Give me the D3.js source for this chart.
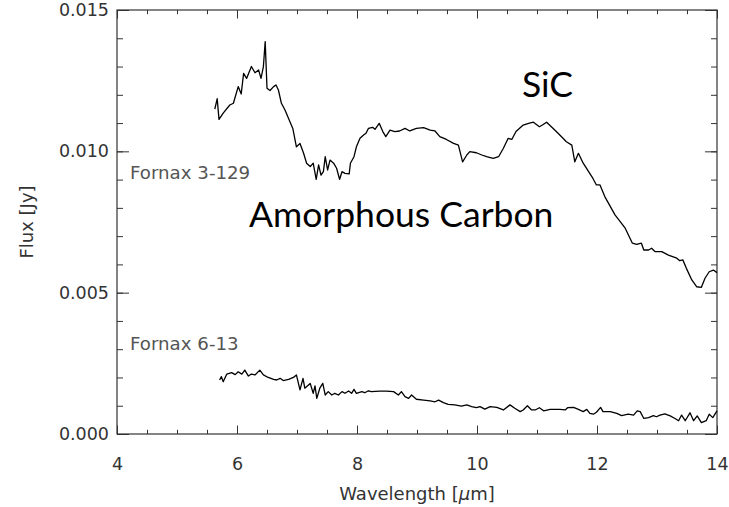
<!DOCTYPE html>
<html lang="en">
  <head>
    <meta charset="UTF-8" />
    <title>Fornax spectra</title>
    <style>
      body { margin: 0; background: #fff; }
    </style>
    <script src="https://d3js.org/d3.v7.min.js"></script>
  </head>
  <body>
    <svg width="729" height="507"></svg>
    <script>
      // Fornax 3-129 spectrum (wavelength in micron, flux in Jy)
      var wlA = [5.63, 5.67, 5.70, 5.77, 5.88, 5.94, 6.02, 6.07, 6.11, 6.16, 6.24, 6.30, 6.36, 6.40, 6.44, 6.47, 6.50, 6.55, 6.61, 6.65, 6.69, 6.74, 6.80, 6.87, 6.93, 6.99, 7.05, 7.11, 7.16, 7.22, 7.27, 7.32, 7.36, 7.40, 7.44, 7.47, 7.51, 7.55, 7.61, 7.66, 7.71, 7.75, 7.80, 7.87, 7.89, 7.95, 7.99, 8.05, 8.11, 8.15, 8.19, 8.26, 8.30, 8.37, 8.43, 8.48, 8.55, 8.63, 8.71, 8.80, 8.88, 8.99, 9.11, 9.22, 9.30, 9.38, 9.49, 9.61, 9.69, 9.76, 9.83, 9.88, 9.99, 10.08, 10.16, 10.27, 10.36, 10.44, 10.52, 10.58, 10.65, 10.77, 10.86, 10.94, 11.04, 11.09, 11.16, 11.27, 11.38, 11.49, 11.58, 11.63, 11.69, 11.77, 11.86, 11.93, 11.99, 12.05, 12.13, 12.30, 12.47, 12.59, 12.66, 12.74, 12.78, 12.86, 12.91, 12.97, 13.08, 13.19, 13.33, 13.38, 13.43, 13.49, 13.58, 13.66, 13.74, 13.80, 13.87, 13.94, 14.00];
      var fluxA = [0.01149, 0.01186, 0.01113, 0.01135, 0.01164, 0.0117, 0.01229, 0.01203, 0.01276, 0.01258, 0.013, 0.01278, 0.01288, 0.01258, 0.013, 0.01388, 0.01223, 0.01215, 0.01229, 0.01235, 0.01217, 0.0117, 0.01146, 0.01111, 0.01081, 0.01016, 0.01028, 0.00993, 0.00958, 0.00946, 0.00958, 0.00901, 0.00952, 0.00916, 0.00928, 0.00981, 0.00934, 0.00969, 0.00958, 0.0094, 0.00901, 0.00928, 0.00922, 0.0092, 0.00958, 0.00981, 0.01016, 0.01046, 0.01058, 0.01064, 0.01081, 0.01085, 0.01078, 0.01099, 0.0107, 0.01052, 0.01075, 0.0107, 0.01072, 0.01081, 0.01072, 0.01081, 0.01084, 0.01075, 0.01072, 0.01052, 0.01042, 0.01028, 0.01022, 0.00963, 0.00987, 0.00999, 0.00995, 0.00987, 0.00981, 0.00975, 0.00981, 0.01011, 0.01046, 0.01042, 0.0107, 0.01093, 0.01099, 0.01103, 0.01087, 0.01093, 0.01103, 0.01081, 0.01058, 0.01034, 0.01022, 0.00963, 0.00993, 0.00958, 0.00928, 0.00905, 0.00881, 0.00881, 0.0084, 0.00775, 0.00728, 0.00675, 0.00671, 0.00675, 0.00651, 0.00651, 0.00657, 0.00645, 0.00645, 0.00633, 0.00622, 0.00613, 0.00616, 0.00586, 0.00545, 0.00521, 0.00519, 0.00551, 0.00574, 0.0058, 0.00571];

      // Fornax 6-13 spectrum
      var wlB = [5.71, 5.74, 5.77, 5.83, 5.91, 5.97, 6.02, 6.08, 6.13, 6.19, 6.24, 6.30, 6.38, 6.44, 6.52, 6.61, 6.66, 6.72, 6.77, 6.86, 6.94, 6.99, 7.05, 7.10, 7.13, 7.22, 7.27, 7.30, 7.33, 7.38, 7.43, 7.47, 7.52, 7.58, 7.63, 7.69, 7.75, 7.80, 7.86, 7.91, 7.95, 7.99, 8.08, 8.13, 8.19, 8.24, 8.38, 8.49, 8.61, 8.69, 8.74, 8.80, 8.86, 8.91, 8.99, 9.11, 9.22, 9.30, 9.36, 9.44, 9.52, 9.63, 9.74, 9.83, 9.91, 9.99, 10.05, 10.13, 10.22, 10.33, 10.44, 10.55, 10.63, 10.72, 10.77, 10.84, 10.91, 10.97, 11.04, 11.11, 11.22, 11.38, 11.47, 11.51, 11.61, 11.69, 11.77, 11.83, 11.88, 11.94, 11.99, 12.06, 12.10, 12.22, 12.33, 12.41, 12.52, 12.61, 12.67, 12.72, 12.78, 12.86, 12.94, 12.99, 13.05, 13.13, 13.22, 13.30, 13.36, 13.41, 13.47, 13.55, 13.61, 13.67, 13.74, 13.82, 13.87, 13.93, 14.00];
      var fluxB = [0.00191, 0.00203, 0.00185, 0.00212, 0.00217, 0.0021, 0.0022, 0.00212, 0.00226, 0.00205, 0.00212, 0.00209, 0.00226, 0.00209, 0.002, 0.00193, 0.00191, 0.00197, 0.00189, 0.00193, 0.002, 0.00209, 0.00156, 0.00197, 0.00162, 0.00179, 0.00144, 0.0017, 0.00126, 0.00162, 0.00179, 0.00138, 0.0015, 0.00138, 0.00144, 0.00138, 0.0015, 0.00144, 0.00152, 0.00144, 0.00158, 0.00144, 0.0015, 0.00146, 0.00153, 0.0015, 0.00152, 0.00152, 0.0015, 0.00138, 0.0015, 0.00132, 0.00126, 0.00138, 0.00123, 0.0012, 0.00117, 0.00114, 0.0012, 0.00111, 0.00105, 0.00103, 0.00099, 0.00103, 0.00097, 0.00093, 0.00097, 0.00088, 0.00097, 0.00094, 0.00085, 0.00103, 0.00091, 0.00079, 0.00085, 0.001, 0.00085, 0.00085, 0.00093, 0.00082, 0.00087, 0.00087, 0.00085, 0.00093, 0.00094, 0.00087, 0.00079, 0.00087, 0.00073, 0.0007, 0.00077, 0.00094, 0.00079, 0.00079, 0.00073, 0.00065, 0.0007, 0.00067, 0.00082, 0.00079, 0.00055, 0.00058, 0.00065, 0.00061, 0.00067, 0.00071, 0.00064, 0.00055, 0.00047, 0.00067, 0.00047, 0.00075, 0.00047, 0.00064, 0.0004, 0.00047, 0.0007, 0.00058, 0.00082];

      var xTicks = [4, 6, 8, 10, 12, 14];
      var yTicks = [0, 0.005, 0.01, 0.015];
      var seriesNames = ["Fornax 3-129", "Fornax 6-13"];
      var featureNames = ["SiC", "Amorphous Carbon"];

      window.onload = function () {
        var svg = d3.select("svg");
        var left = 117, right = 717, top = 10, bottom = 434;

        var x = d3.scaleLinear().domain([4, 14]).range([left, right]);
        var y = d3.scaleLinear().domain([0, 0.015]).range([bottom, top]);

        var xMinor = d3.range(4, 14.01, 0.5);
        var yMinor = d3.range(0, 0.01501, 0.001);

        function styleAxis(g) {
          g.select(".domain").remove();
          g.selectAll("line").attr("stroke", "#333").attr("stroke-width", 1);
          g.selectAll("text")
            .attr("fill", "#333")
            .attr("font-family", "DejaVu Sans, sans-serif")
            .attr("font-size", 17.5);
        }

        // minor ticks on all four sides
        svg.append("g").attr("transform", "translate(0," + bottom + ")")
          .call(d3.axisBottom(x).tickValues(xMinor).tickSize(-4.2).tickFormat(""))
          .call(styleAxis);
        svg.append("g").attr("transform", "translate(0," + top + ")")
          .call(d3.axisTop(x).tickValues(xMinor).tickSize(-4.2).tickFormat(""))
          .call(styleAxis);
        svg.append("g").attr("transform", "translate(" + left + ",0)")
          .call(d3.axisLeft(y).tickValues(yMinor).tickSize(-6).tickFormat(""))
          .call(styleAxis);
        svg.append("g").attr("transform", "translate(" + right + ",0)")
          .call(d3.axisRight(y).tickValues(yMinor).tickSize(-6).tickFormat(""))
          .call(styleAxis);

        // major ticks + labels
        svg.append("g").attr("transform", "translate(0," + bottom + ")")
          .call(d3.axisBottom(x).tickValues(xTicks).tickSize(-8.5).tickPadding(24).tickFormat(d3.format("d")))
          .call(styleAxis);
        svg.append("g").attr("transform", "translate(0," + top + ")")
          .call(d3.axisTop(x).tickValues(xTicks).tickSize(-8.5).tickFormat(""))
          .call(styleAxis);
        svg.append("g").attr("transform", "translate(" + left + ",0)")
          .call(d3.axisLeft(y).tickValues(yTicks).tickSize(-12).tickPadding(8).tickFormat(d3.format(".3f")))
          .call(styleAxis);
        svg.append("g").attr("transform", "translate(" + right + ",0)")
          .call(d3.axisRight(y).tickValues(yTicks).tickSize(-12).tickFormat(""))
          .call(styleAxis);

        // frame
        svg.append("rect")
          .attr("x", left).attr("y", top)
          .attr("width", right - left).attr("height", bottom - top)
          .attr("fill", "none").attr("stroke", "#333").attr("stroke-width", 1.2);

        var line = d3.line()
          .x((d) => x(d[0]))
          .y((d) => y(d[1]));

        var specA = wlA.map((w, i) => [w, fluxA[i]]);
        var specB = wlB.map((w, i) => [w, fluxB[i]]);

        svg.selectAll("path.spec")
          .data([specA, specB])
          .join("path")
          .attr("class", "spec")
          .attr("d", line)
          .attr("fill", "none")
          .attr("stroke", "#000")
          .attr("stroke-width", 1.3)
          .attr("stroke-linejoin", "round");

        // axis titles
        svg.append("text")
          .attr("x", (left + right) / 2).attr("y", 500)
          .attr("text-anchor", "middle")
          .attr("font-family", "DejaVu Sans, sans-serif")
          .attr("font-size", 18)
          .attr("fill", "#333")
          .call((t) => {
            t.append("tspan").text("Wavelength [");
            t.append("tspan").attr("font-style", "italic").text("\u03bc");
            t.append("tspan").text("m]");
          });

        svg.append("text")
          .attr("transform", "translate(33," + (bottom + top) / 2 + ") rotate(-90)")
          .attr("text-anchor", "middle")
          .attr("font-family", "DejaVu Sans, sans-serif")
          .attr("font-size", 18)
          .attr("fill", "#333")
          .text("Flux [Jy]");

        // spectrum names
        svg.selectAll("text.name")
          .data(seriesNames)
          .join("text")
          .attr("class", "name")
          .attr("x", 130)
          .attr("y", (d, i) => (i == 0 ? y(0.00902) : y(0.00297)))
          .attr("font-family", "DejaVu Sans, sans-serif")
          .attr("font-size", 18.2)
          .attr("fill", "#555")
          .text((d) => d);

        // feature labels
        svg.selectAll("text.feature")
          .data(featureNames)
          .join("text")
          .attr("class", "feature")
          .attr("x", (d, i) => (i == 0 ? x(10.75) : x(6.2)))
          .attr("y", (d, i) => (i == 0 ? y(0.01192) : y(0.00732)))
          .attr("font-family", "Lato, sans-serif")
          .attr("font-size", 35.5)
          .attr("fill", "#000")
          .text((d) => d);
      };
    </script>
  </body>
</html>
